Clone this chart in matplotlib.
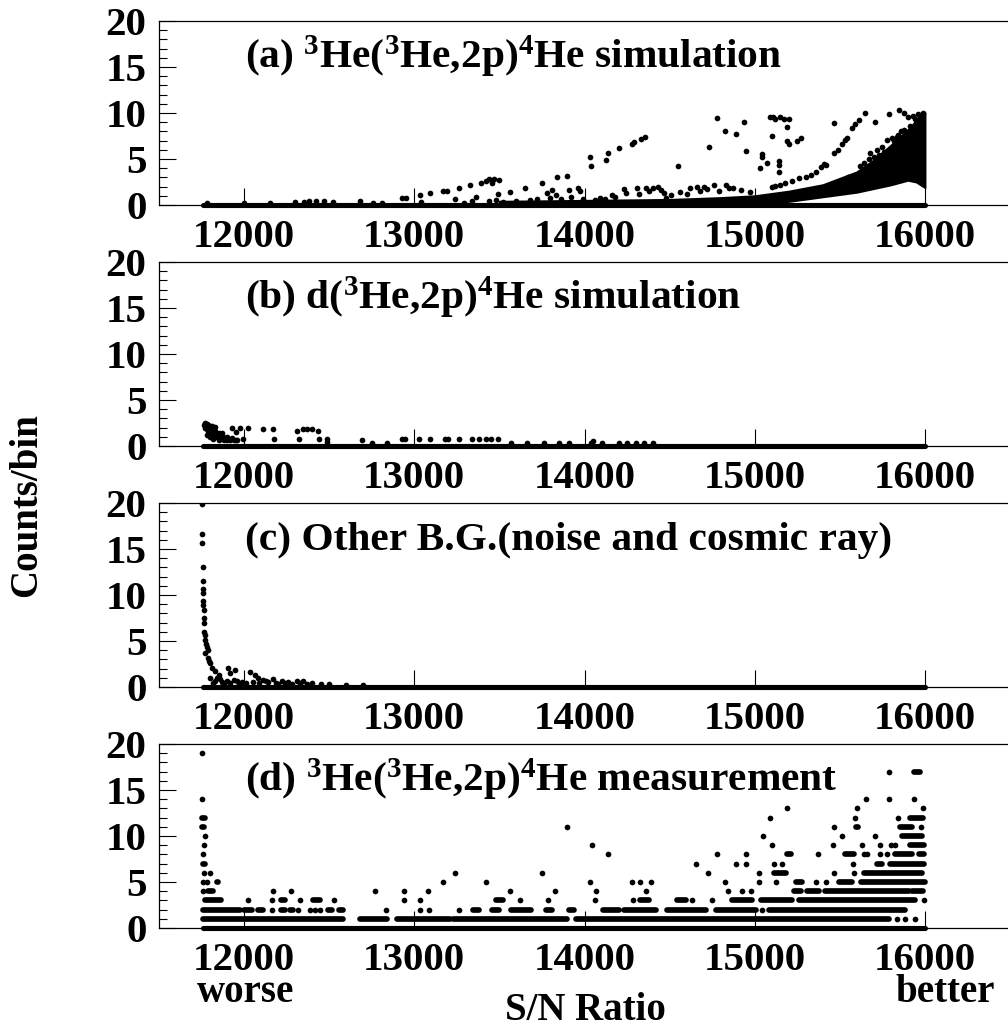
import matplotlib
matplotlib.use("Agg")
import matplotlib.pyplot as plt

plt.rcParams['font.family'] = ['Liberation Serif', 'DejaVu Serif']
plt.rcParams['font.weight'] = 'bold'
plt.rcParams['mathtext.fontset'] = 'custom'
plt.rcParams['mathtext.rm'] = 'Liberation Serif:bold'
plt.rcParams['mathtext.it'] = 'Liberation Serif:bold'
plt.rcParams['mathtext.bf'] = 'Liberation Serif:bold'

titles = [r"(a) $^{3}$He($^{3}$He,2p)$^{4}$He simulation",
          r"(b) d($^{3}$He,2p)$^{4}$He simulation",
          "(c) Other B.G.(noise and cosmic ray)",
          r"(d) $^{3}$He($^{3}$He,2p)$^{4}$He measurement"]
xticks = [12000, 13000, 14000, 15000, 16000]
zero_row = [11760, 16000]

# panel a: dense band (lower/upper edge) + scattered points
a_band_x = [13500, 14000, 14500, 14800, 15000, 15200, 15400, 15600, 15700, 15800, 15900, 15950, 16000]
a_band_lo = [0, 0, 0, 0.05, 0.1, 0.4, 0.9, 1.4, 1.8, 2.2, 2.7, 2.5, 1.9]
a_band_hi = [0.4, 0.5, 0.6, 0.8, 1.0, 1.5, 2.2, 3.6, 4.9, 6.5, 8.2, 9.2, 10.0]
a_x = [11780, 12000, 12150, 12300, 12350, 12380, 12420, 12470, 12520, 12680, 12760, 12810, 12925, 12950,
       13035, 13040, 13090, 13170, 13190, 13240, 13260, 13290, 13330, 13340, 13360, 13390, 13420, 13440,
       13455, 13470, 13495, 13490, 13440, 13480, 13520,
       13560, 13600, 13650, 13680, 13720, 13750, 13780, 13800, 13810, 13830, 13840, 13860, 13900, 13910,
       13920, 13960, 13975, 13990, 14030, 14040,
       14060, 14090, 14120, 14125, 14140, 14160, 14180, 14205, 14230, 14245, 14280, 14290, 14310, 14320,
       14330, 14355, 14360, 14380, 14400, 14430, 14450, 14470, 14480,
       14510, 14550, 14560, 14600, 14620, 14660, 14680, 14700, 14720, 14730, 14760, 14780, 14790, 14825,
       14830, 14850, 14870, 14890, 14920, 14940, 14950, 14970,
       15030, 15040, 15042, 15070, 15090, 15110, 15120, 15100, 15140, 15142, 15145, 15150, 15170, 15190,
       15200, 15190, 15200, 15250, 15270, 15100, 15120, 15150, 15180, 15220, 15260, 15300,
       15330, 15360, 15390, 15410, 15420, 15465, 15465, 15490, 15510, 15530, 15545, 15350, 15400, 15450,
       15500, 15550,
       15570, 15590, 15610, 15650, 15705, 15790, 15850, 15875, 15775, 15805, 15835, 15620, 15640, 15670,
       15700, 15730, 15770, 15900, 15930, 15960, 15990,
       15680, 15720, 15750, 15760, 15820, 15840, 15860, 15880, 15910, 15940, 15970]
a_y = [0.2, 0.2, 0.2, 0.3, 0.3, 0.4, 0.4, 0.4, 0.3, 0.4, 0.2, 0.2, 0.8, 0.8,
       1.1, 0.3, 1.3, 1.5, 1.5, 0.6, 1.8, 0.2, 2.2, 0.4, 0.9, 2.4, 2.6, 2.8,
       2.4, 2.8, 2.7, 1.2, 0.4, 0.5, 0.3,
       1.4, 0.4, 1.8, 0.5, 0.6, 2.4, 1.3, 0.8, 1.6, 1.1, 3.0, 0.6, 3.2, 1.6,
       0.9, 1.8, 1.5, 0.7, 5.2, 4.2,
       0.5, 0.8, 0.7, 4.9, 5.6, 1.1, 0.9, 6.2, 1.7, 1.3, 6.6, 6.9, 1.8, 1.2,
       7.2, 7.4, 1.9, 1.5, 1.9, 2.0, 1.6, 1.3, 0.8,
       1.1, 4.2, 1.4, 1.2, 1.9, 2.0, 1.5, 2.0, 1.7, 6.3, 2.2, 9.5, 1.5, 8.0,
       2.2, 1.9, 1.8, 7.7, 1.6, 9.0, 5.9, 1.4,
       4.0, 5.5, 5.2, 4.6, 9.6, 9.6, 9.4, 7.5, 4.8, 4.3, 3.6, 9.6, 9.4, 8.5,
       9.3, 7.0, 6.6, 7.0, 7.3, 2.0, 2.1, 2.2, 2.4, 2.6, 2.9, 3.0,
       3.3, 3.6, 4.1, 4.5, 4.3, 8.9, 5.7, 6.0, 6.6, 7.1, 7.3, 1.5, 1.8, 2.2,
       2.5, 3.0,
       8.4, 8.8, 9.2, 10.0, 9.0, 9.9, 10.3, 10.0, 7.1, 7.3, 7.4, 4.2, 4.6, 5.0,
       5.2, 5.4, 5.6, 9.6, 9.7, 9.9, 10.0,
       5.6, 6.0, 6.3, 5.8, 7.0, 7.6, 8.0, 8.2, 8.6, 9.4, 9.6]

# panel b
b_x = [11770, 11780, 11790, 11800, 11810, 11830, 11770, 11780, 11790, 11800, 11810, 11820, 11840, 11860,
       11880, 11900, 11920, 11950, 11780, 11800, 11820, 11850, 11830, 11850, 11870, 11900, 11930,
       11765, 11775, 11785, 11795, 11805, 11815, 11825, 11845, 11865, 11885, 11910, 11940, 11960,
       11870, 11930, 11950, 11975, 11995, 12022, 12110, 12170, 12175, 12310, 12320, 12345, 12370, 12400,
       12435, 12440, 12490, 12490, 12690, 12750, 12840, 12925, 12945, 13030, 13090, 13180, 13200, 13265,
       13340, 13380, 13420, 13450, 13490, 13570, 13660, 13760, 13850, 13910, 14040, 14050, 14100, 14200,
       14250, 14300, 14350, 14400]
b_y = [2.5, 2.4, 2.3, 2.2, 2.2, 2.1, 2.0, 1.8, 1.6, 1.4, 1.3, 1.1, 1.0, 0.8,
       0.7, 0.6, 0.6, 0.6, 1.2, 1.0, 0.8, 0.6, 1.6, 1.4, 1.2, 1.0, 0.9,
       2.3, 2.1, 1.9, 1.9, 1.7, 1.5, 1.3, 1.2, 1.0, 0.9, 0.8, 0.7, 0.7,
       1.4, 2.0, 1.5, 2.0, 0.8, 2.0, 1.9, 1.9, 0.8, 1.6, 0.8, 1.8, 1.8, 1.8,
       1.6, 0.8, 0.8, 0.4, 0.7, 0.3, 0.3, 0.8, 0.8, 0.8, 0.8, 0.8, 0.8, 0.8,
       0.8, 0.8, 0.8, 0.8, 0.8, 0.3, 0.3, 0.3, 0.3, 0.3, 0.3, 0.5, 0.3, 0.3,
       0.3, 0.3, 0.3, 0.3]

# panel c
c_x = [11755, 11754, 11754, 11756, 11756, 11758, 11760, 11758, 11760, 11762, 11763, 11764, 11766, 11768,
       11772, 11775, 11780, 11785, 11770, 11790, 11795, 11800, 11810, 11830, 11850, 11905, 11915, 11945,
       11860, 11900, 11940, 11960, 12034, 12063, 12080, 12110, 12170, 12220, 12260, 12310, 12345, 12400,
       12450, 12500, 11800, 11830, 11870, 11990, 12140, 12190,
       11820, 11840, 11880, 11920, 11970, 12010, 12050, 12090, 12130, 12200, 12240, 12280, 12330, 12370,
       12600, 12700]
c_y = [19.9, 16.6, 15.6, 13.0, 11.5, 10.6, 10.2, 9.4, 8.9, 8.4, 7.5, 7.0, 6.0, 5.6,
       5.1, 4.7, 4.4, 4.0, 3.7, 3.1, 2.8, 2.6, 2.1, 1.7, 1.3, 2.1, 1.5, 1.8,
       0.9, 0.7, 0.8, 0.6, 1.6, 1.3, 1.0, 0.8, 0.9, 0.7, 0.5, 0.6, 0.6, 0.4,
       0.3, 0.3, 1.0, 0.7, 0.5, 0.5, 0.5, 0.4,
       0.4, 1.0, 0.4, 0.4, 0.3, 0.4, 0.5, 0.4, 0.6, 0.3, 0.4, 0.3, 0.4, 0.3,
       0.2, 0.2]

# panel d: runs of adjacent bins with equal counts, and single bins
d_seg_y = [1, 1, 1, 1, 1,
           2, 2, 2, 2, 2, 2, 2, 2, 2, 2, 2, 2, 2, 2, 2, 2, 2,
           3, 3, 3, 3, 3, 3, 3, 3, 3,
           4, 4, 4, 4, 4,
           5, 5, 5, 5,
           6, 6,
           7, 7, 7,
           8, 8, 8, 8,
           9, 10, 11, 11, 11, 12, 12, 17]
d_seg_x0 = [11760, 12680, 12900, 13225, 13950,
            11760, 12000, 12082, 12219, 12268, 12493, 12557, 13343, 13457, 13568, 13774, 13906, 14106, 14230,
            14487, 14771, 15084,
            11770, 12219, 12405, 13481, 14327, 14546, 14868, 15035, 15260,
            11789, 15230, 15310, 15415, 15924,
            11838, 15240, 15494, 15627,
            15113, 15641,
            11756, 15719, 15797,
            15191, 15533, 15826, 15963,
            15914, 15865, 11755, 15596, 15856, 11755, 15914, 15938]
d_seg_x1 = [12580, 12840, 13210, 13900, 15790,
            11975, 12044, 12112, 12239, 12290, 12515, 12580, 13383, 13500, 13686, 13809, 13940, 14200, 14419,
            14712, 15005, 15885,
            11867, 12239, 12444, 13520, 14380, 14595, 14986, 15220, 15944,
            11819, 15270, 15380, 15905, 15987,
            11848, 15279, 15572, 16000,
            15185, 15983,
            11770, 15748, 15993,
            15216, 15582, 15924, 15993,
            15993, 15983, 11762, 15607, 15924, 11770, 15987, 15973]
d_pt_y = [1, 1, 1,
          2, 2, 2, 2, 2, 2, 2, 2, 2, 2,
          3, 3, 3, 3, 3, 3, 3, 3, 3, 3, 3, 3, 3,
          4, 4, 4, 4, 4, 4, 4, 4, 4, 4, 4, 4, 4,
          5, 5, 5, 5, 5, 5, 5, 5, 5, 5, 5, 5, 5,
          6, 6, 6, 6, 6, 6, 6, 6,
          7, 7, 7, 7, 7, 7,
          8, 8, 8, 8, 8, 8, 8, 8, 8,
          9, 9, 9, 9, 9, 9, 9, 9,
          10, 10, 10, 10,
          11, 11, 11,
          12, 12, 12,
          13, 13, 13,
          14, 14, 14, 14,
          17, 19]
d_pt_x = [15836, 15885, 15940,
          12166, 12317, 12385, 12415, 12444, 12831, 13035, 13089, 13265, 15045,
          12024, 12166, 12327, 12528, 12937, 13035, 13623, 13783, 14063, 14286, 14634, 14751, 15993,
          11756, 12170, 12278, 12767, 12937, 13080, 13563, 13828, 14067, 14360, 14845, 14923, 14980,
          11756, 11783, 13171, 13422, 14032, 14282, 14327, 14393, 14826, 15025, 15127, 15361, 15420,
          11764, 11799, 13242, 13750, 14728, 15025, 15465, 15582,
          14653, 14892, 14947, 15113, 15158, 15576,
          11756, 14141, 14781, 14947, 15371, 15641, 15660, 15734, 15778,
          11765, 14043, 15103, 15461, 15631, 15734, 15803, 15826,
          11770, 15048, 15514, 15705,
          13900, 15465, 15979,
          15087, 15588, 15842,
          15191, 15602, 15987,
          11752, 15651, 15791, 15938,
          15791, 11750]

W, H = 1008, 1028
fig = plt.figure(figsize=(W / 100, H / 100), dpi=100)
tops = [21, 262, 503, 744]
ph = 184
left, right = 159, 1010
ms = 4.1
axes = []
for i, top in enumerate(tops):
    ax = fig.add_axes([left / W, (H - top - ph) / H, (right - left) / W, ph / H])
    ax.set_xlim(11500, 16500)
    ax.set_ylim(0, 20)
    ax.set_xticks(xticks)
    ax.set_yticks([0, 5, 10, 15, 20])
    ax.set_yticks(range(0, 21), minor=True)
    ax.tick_params(axis='both', which='major', direction='in', length=12, width=0.8,
                   labelsize=29.5, pad=9)
    ax.tick_params(axis='x', which='major', pad=10)
    ax.tick_params(axis='y', which='minor', direction='in', length=5.5, width=0.8)
    ax.tick_params(axis='x', which='minor', bottom=False)
    for s in ax.spines.values():
        s.set_linewidth(0.9)
    ax.spines['right'].set_visible(False)
    # zero-count bins form a solid row along the bottom
    ax.plot(zero_row, [0, 0], color='k', lw=ms * 0.9, solid_capstyle='round', clip_on=False)
    ax.text(12005, 14.9, titles[i], fontsize=29.8, fontweight='bold', va='baseline', ha='left')
    axes.append(ax)

axes[0].fill_between(a_band_x, a_band_lo, a_band_hi, color='k', lw=1.5, edgecolor='k')
axes[0].plot(a_x, a_y, 'o', color='k', ms=ms, mew=0)
axes[1].plot(b_x, b_y, 'o', color='k', ms=ms, mew=0)
axes[2].plot(c_x, c_y, 'o', color='k', ms=ms, mew=0)
for y, x0, x1 in zip(d_seg_y, d_seg_x0, d_seg_x1):
    axes[3].plot([x0, x1], [y, y], color='k', lw=ms, solid_capstyle='round')
axes[3].plot(d_pt_x, d_pt_y, 'o', color='k', ms=ms, mew=0)

fig.text(27 / W, 1 - 505 / H, "Counts/bin", rotation=90, fontsize=28, fontweight='bold',
         ha='center', va='center')
fig.text(585 / W, 1 - 1020 / H, "S/N Ratio", fontsize=28, fontweight='bold', ha='center', va='baseline')
fig.text(246 / W, 1 - 1002 / H, "worse", fontsize=28, fontweight='bold', ha='center', va='baseline')
fig.text(945 / W, 1 - 1002 / H, "better", fontsize=28, fontweight='bold', ha='center', va='baseline')

fig.savefig("out.png", dpi=100)
